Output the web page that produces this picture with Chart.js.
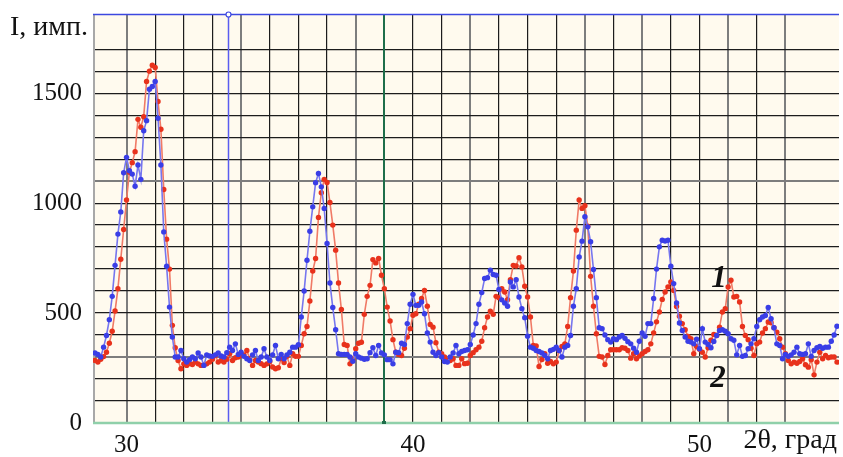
<!DOCTYPE html>
<html>
<head>
<meta charset="utf-8">
<script src="https://cdn.jsdelivr.net/npm/chart.js@4"></script>
<style>
  html, body { margin: 0; padding: 0; background: #ffffff; }
  #wrap { width: 843px; height: 457px; }
</style>
</head>
<body>
<div id="wrap"><canvas id="xrd" width="843" height="457"></canvas></div>
<script>
// Scan grid of the diffractometer: first angle and step, degrees 2θ
const scanStart = 28.9;
const scanStep = 0.1;

// Pattern 1 (red), counts per point
const intensity1 = [
  285,
  277, 290, 302, 322, 363, 417, 509, 611, 745, 880,
  1014, 1140, 1184, 1234, 1381, 1345, 1393, 1553, 1600, 1627,
  1617, 1462, 1336, 1062, 836, 700, 444, 342, 284, 247,
  269, 262, 270, 266, 277, 269, 262, 265, 269, 277,
  290, 307, 277, 284, 277, 290, 315, 284, 297, 300,
  307, 310, 330, 292, 262, 284, 277, 270, 262, 269,
  280, 255, 247, 251, 292, 275, 303, 262, 315, 303,
  303, 353, 406, 439, 555, 691, 748, 935, 1047, 1108,
  1094, 1003, 900, 786, 637, 516, 357, 353, 269, 288,
  338, 363, 367, 494, 576, 626, 743, 728, 748, 672,
  611, 527, 464, 379, 322, 312, 307, 340, 391, 429,
  490, 497, 540, 566, 603, 531, 448, 436, 365, 322,
  315, 300, 284, 284, 292, 262, 262, 292, 270, 272,
  307, 320, 333, 345, 372, 433, 482, 508, 494, 576,
  570, 611, 596, 561, 652, 717, 714, 752, 710, 622,
  573, 482, 353, 350, 257, 289, 315, 272, 280, 269,
  277, 330, 348, 360, 439, 570, 691, 877, 1014, 976,
  988, 895, 667, 531, 406, 303, 300, 266, 307, 333,
  333, 333, 333, 342, 340, 330, 295, 315, 292, 305,
  315, 325, 333, 360, 410, 460, 505, 562, 596, 619,
  641, 603, 530, 486, 452, 424, 394, 383, 315, 348,
  335, 322, 300, 342, 376, 403, 398, 436, 505, 520,
  619, 649, 573, 576, 550, 439, 398, 379, 340, 307,
  360, 368, 409, 429, 459, 456, 433, 413, 383, 345,
  315, 284, 269, 277, 272, 280, 292, 265, 254, 288,
  219, 277, 322, 292, 307, 297, 300, 300, 277
];

// Pattern 2 (blue), counts per point
const intensity2 = [
  318,
  312, 300, 345, 398, 470, 576, 717, 859, 960, 1138,
  1208, 1147, 1132, 1077, 1173, 1108, 1329, 1375, 1518, 1530,
  1553, 1386, 1173, 869, 713, 527, 391, 300, 300, 330,
  292, 277, 288, 300, 292, 318, 300, 262, 310, 305,
  303, 310, 318, 305, 300, 320, 345, 330, 360, 312,
  322, 303, 292, 284, 310, 330, 284, 300, 338, 300,
  284, 310, 353, 292, 312, 292, 310, 322, 345, 345,
  356, 482, 600, 740, 872, 983, 1093, 1135, 1074, 976,
  816, 637, 525, 424, 315, 312, 312, 312, 300, 281,
  315, 300, 295, 290, 292, 320, 342, 307, 353, 318,
  310, 288, 288, 269, 322, 320, 363, 357, 452, 540,
  585, 535, 535, 550, 497, 409, 368, 322, 307, 320,
  300, 280, 277, 300, 318, 353, 315, 325, 330, 333,
  357, 400, 452, 540, 593, 657, 661, 695, 675, 672,
  607, 560, 546, 531, 641, 619, 652, 573, 520, 479,
  395, 345, 340, 330, 325, 318, 307, 292, 330, 335,
  345, 330, 300, 345, 353, 398, 531, 611, 755, 827,
  938, 892, 824, 698, 570, 433, 429, 400, 379, 368,
  383, 379, 391, 398, 385, 370, 360, 340, 322, 372,
  409, 394, 452, 452, 566, 700, 801, 831, 828, 831,
  713, 634, 546, 455, 421, 391, 372, 368, 360, 381,
  338, 429, 368, 357, 342, 371, 398, 421, 424, 417,
  406, 383, 376, 310, 353, 303, 307, 338, 360, 383,
  439, 470, 482, 489, 525, 474, 433, 360, 353, 292,
  312, 303, 310, 322, 345, 315, 312, 315, 360, 303,
  330, 342, 348, 340, 345, 345, 372, 400, 440
];

// Axis ranges, labelled ticks and marker positions
const angleRange = [28.83, 54.87];
const countRange = [0, 1860];
const angleLabels = [30, 40, 50];
const countLabels = [0, 500, 1000, 1500];
const cursorAngle = 33.55;
const markerAngle = 39.0;
const curveTags = [
  { text: '1', angle: 50.68, count: 655 },
  { text: '2', angle: 50.65, count: 200 }
];

const twoTheta = intensity1.map((_, i) => +(scanStart + i * scanStep).toFixed(2));
const toPoints = arr => arr.map((v, i) => ({ x: twoTheta[i], y: v }));

const SERIF = '"Liberation Serif", "Times New Roman", serif';
const heavyX = new Set([29, 30, 34, 38, 42, 46, 48, 51, 53]);
const heavyY = new Set([300, 1100]);

// draws text squeezed horizontally when it is wider than maxWidth
function fitText(ctx, text, x, y, maxWidth, align) {
  const w = ctx.measureText(text).width;
  const k = w > maxWidth ? maxWidth / w : 1;
  ctx.save();
  ctx.translate(x, y);
  ctx.scale(k, 1);
  ctx.textAlign = align;
  ctx.fillText(text, 0, 0);
  ctx.restore();
}

const framePlugin = {
  id: 'frame',
  beforeDraw(chart) {
    const { ctx, chartArea: a } = chart;
    ctx.save();
    ctx.fillStyle = '#fffaee';
    ctx.fillRect(a.left, a.top, a.right - a.left, a.bottom - a.top);
    ctx.restore();
  },
  beforeDatasetsDraw(chart) {
    const { ctx, chartArea: a, scales } = chart;
    ctx.save();
    // left frame
    ctx.strokeStyle = '#a8a8a8';
    ctx.lineWidth = 2;
    ctx.beginPath(); ctx.moveTo(a.left + 1, a.top); ctx.lineTo(a.left + 1, a.bottom); ctx.stroke();
    // cursor line
    const cx = Math.round(scales.x.getPixelForValue(cursorAngle)) + 0.5;
    ctx.strokeStyle = '#5a5cf0';
    ctx.lineWidth = 1.5;
    ctx.beginPath(); ctx.moveTo(cx, a.top); ctx.lineTo(cx, a.bottom); ctx.stroke();
    // marker line
    const mx = Math.round(scales.x.getPixelForValue(markerAngle));
    ctx.strokeStyle = '#1f6e4a';
    ctx.lineWidth = 2;
    ctx.beginPath(); ctx.moveTo(mx, a.top); ctx.lineTo(mx, a.bottom); ctx.stroke();
    // bottom frame
    ctx.strokeStyle = '#8fd0aa';
    ctx.lineWidth = 2.5;
    ctx.beginPath(); ctx.moveTo(a.left, a.bottom); ctx.lineTo(a.right, a.bottom); ctx.stroke();
    ctx.fillStyle = '#1f6e4a';
    ctx.fillRect(mx - 2, a.bottom - 2, 4, 3);
    // top frame
    ctx.strokeStyle = '#3c48e0';
    ctx.lineWidth = 1.5;
    ctx.beginPath(); ctx.moveTo(a.left, a.top + 0.5); ctx.lineTo(a.right, a.top + 0.5); ctx.stroke();
    ctx.restore();
  },
  afterDatasetsDraw(chart) {
    const { ctx, chartArea: a, scales } = chart;
    ctx.save();
    const cx = Math.round(scales.x.getPixelForValue(cursorAngle)) + 0.5;
    ctx.fillStyle = '#ffffff';
    ctx.strokeStyle = '#3c48e0';
    ctx.lineWidth = 1.2;
    ctx.beginPath(); ctx.arc(cx, a.top + 0.5, 2.5, 0, Math.PI * 2); ctx.fill(); ctx.stroke();

    ctx.fillStyle = '#111111';
    ctx.font = 'italic bold 31px ' + SERIF;
    ctx.textAlign = 'center';
    ctx.textBaseline = 'middle';
    curveTags.forEach(t => {
      ctx.fillText(t.text, scales.x.getPixelForValue(t.angle), scales.y.getPixelForValue(t.count));
    });

    ctx.font = '28px ' + SERIF;
    fitText(ctx, 'I, имп.', 10, 28, 81, 'left');
    ctx.font = '28px ' + SERIF;
    fitText(ctx, '2θ, град', 837, 441, 97, 'right');
    ctx.restore();
  }
};

new Chart(document.getElementById('xrd'), {
  type: 'line',
  data: {
    datasets: [
      {
        data: toPoints(intensity2),
        order: 0,
        borderColor: '#7676ef',
        borderWidth: 1.6,
        pointRadius: 2.7,
        pointBorderWidth: 0,
        pointBackgroundColor: '#3a3ee6',
        tension: 0
      },
      {
        data: toPoints(intensity1),
        order: 1,
        borderColor: '#f07a66',
        borderWidth: 1.6,
        pointRadius: 2.7,
        pointBorderWidth: 0,
        pointBackgroundColor: '#e8321c',
        tension: 0
      }
    ]
  },
  options: {
    responsive: false,
    animation: false,
    events: [],
    layout: { padding: { top: 14, right: 0, bottom: 0, left: 0 } },
    plugins: { legend: { display: false }, tooltip: { enabled: false } },
    scales: {
      x: {
        type: 'linear',
        min: angleRange[0],
        max: angleRange[1],
        border: { display: false },
        grid: {
          drawTicks: false,
          color: c => {
            const v = c.tick && c.tick.value;
            if (!Number.isInteger(v) || v === markerAngle) return 'rgba(0,0,0,0)';
            return heavyX.has(v) ? '#7d7d7d' : '#1c1c1c';
          },
          lineWidth: c => (c.tick && heavyX.has(c.tick.value) ? 2 : 1.2)
        },
        ticks: {
          stepSize: 1,
          autoSkip: false,
          maxRotation: 0,
          padding: 7,
          color: '#111111',
          font: { family: SERIF, size: 25 },
          callback: v => (angleLabels.includes(v) ? String(v) : '')
        },
        afterFit: s => { s.height = 34; s.paddingLeft = 0; s.paddingRight = 0; }
      },
      y: {
        min: countRange[0],
        max: countRange[1],
        border: { display: false },
        grid: {
          drawTicks: false,
          color: c => {
            const v = c.tick && c.tick.value;
            if (v === 0 || v % 100 !== 0) return 'rgba(0,0,0,0)';
            return heavyY.has(v) ? '#7d7d7d' : '#1c1c1c';
          },
          lineWidth: c => (c.tick && heavyY.has(c.tick.value) ? 2 : 1.2)
        },
        ticks: {
          stepSize: 100,
          autoSkip: false,
          padding: 11,
          color: '#111111',
          font: { family: SERIF, size: 25 },
          callback: v => (countLabels.includes(v) ? String(v) : '')
        },
        afterFit: s => { s.width = 93; s.paddingTop = 0; s.paddingBottom = 0; }
      }
    }
  },
  plugins: [framePlugin]
});
</script>
</body>
</html>
